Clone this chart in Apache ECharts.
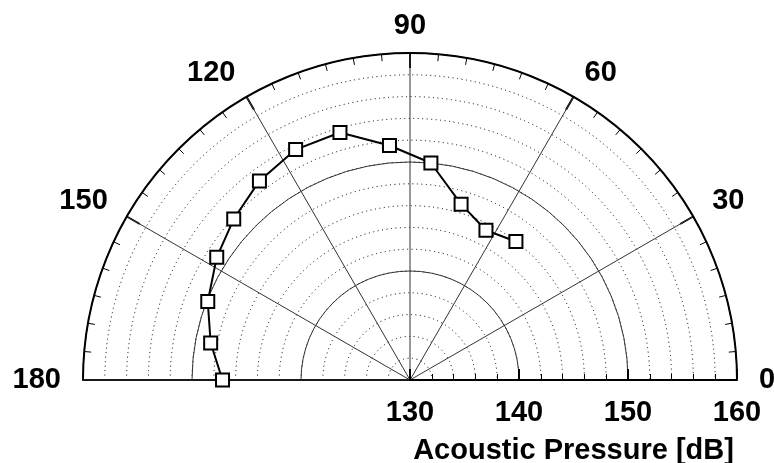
<!DOCTYPE html>
<html>
<head>
<meta charset="utf-8">
<script src="https://cdn.jsdelivr.net/npm/echarts@6/dist/echarts.min.js"></script>
<style>
html,body{margin:0;padding:0;background:#fff;}
#chart{width:774px;height:463px;}
</style>
</head>
<body>
<div id="chart"></div>
<script>
// Measurement angles (degrees) and acoustic pressure (dB)
const angles = [180, 169.5, 158.8, 147.6, 137.6, 127.1, 116.4, 105.8, 95.0, 84.5, 73.8, 63.1, 52.6];
const pressure = [147.2, 148.6, 149.9, 151.0, 151.9, 152.9, 153.6, 153.6, 151.6, 150.0, 146.8, 145.4, 146.0];
const angleTicks = [0, 30, 60, 90, 120, 150, 180];
const radiusTicks = [130, 140, 150, 160];
const radiusTitle = 'Acoustic Pressure [dB]';

const FONT = 'Liberation Sans, Arial, sans-serif';
const chart = echarts.init(document.getElementById('chart'), null, {renderer: 'canvas'});

const option = {
  animation: false,
  backgroundColor: '#fff',
  polar: [
    {center: [410, 380], radius: 327},
    {center: [410, 380], radius: 327}
  ],
  angleAxis: [
    {
      polarIndex: 0,
      type: 'value',
      min: angleTicks[0],
      max: angleTicks[angleTicks.length - 1],
      interval: 30,
      startAngle: 0,
      endAngle: 180,
      clockwise: false,
      z: 3,
      axisLine: {show: true, lineStyle: {color: '#000', width: 2}},
      axisTick: {show: true, inside: true, length: 15, lineStyle: {color: '#000', width: 2}},
      minorTick: {show: true, splitNumber: 6, length: 7, lineStyle: {color: '#000', width: 1}},
      axisLabel: {
        show: true, margin: 22, color: '#000', fontSize: 29, lineHeight: 10, fontWeight: 'bold', fontFamily: FONT,
        formatter: v => angleTicks.indexOf(v) >= 0 ? String(v) : ''
      },
      splitLine: {show: true, lineStyle: {color: '#333', width: 1}},
      minorSplitLine: {show: false}
    },
    {
      polarIndex: 1,
      type: 'value',
      min: 0, max: 180,
      startAngle: 180,
      endAngle: 0,
      clockwise: true,
      show: false
    }
  ],
  radiusAxis: [
    {
      polarIndex: 0,
      type: 'value',
      min: radiusTicks[0],
      max: radiusTicks[radiusTicks.length - 1],
      interval: 10,
      z: 3,
      name: radiusTitle,
      nameLocation: 'middle',
      nameGap: 56,
      nameTextStyle: {color: '#000', fontSize: 29, fontWeight: 'bold', fontFamily: FONT},
      axisLine: {show: true, lineStyle: {color: '#000', width: 2}},
      axisTick: {show: true, length: 11, lineStyle: {color: '#000', width: 2}},
      minorTick: {show: true, splitNumber: 5, length: 6, lineStyle: {color: '#000', width: 1}},
      axisLabel: {
        show: true, margin: -18, verticalAlign: 'top', align: 'center',
        color: '#000', fontSize: 29, fontWeight: 'bold', fontFamily: FONT,
        showMinLabel: true, showMaxLabel: true
      },
      splitLine: {show: true, lineStyle: {color: '#333', width: 1}},
      minorSplitLine: {show: false}
    },
    {
      polarIndex: 1,
      type: 'value',
      min: 130, max: 160,
      interval: 2,
      z: 2,
      axisLine: {show: true, lineStyle: {color: '#000', width: 2}},
      axisTick: {show: false},
      axisLabel: {show: false},
      splitLine: {show: true, lineStyle: {color: '#000', width: 1, type: [1, 3.5]}}
    }
  ],
  series: [
    {
      type: 'line',
      coordinateSystem: 'polar',
      polarIndex: 0,
      data: pressure.map((p, i) => [p, angles[i]]),
      symbol: 'rect',
      symbolSize: 13,
      showAllSymbol: true,
      lineStyle: {color: '#000', width: 2},
      itemStyle: {color: '#fff', borderColor: '#000', borderWidth: 2},
      z: 5
    }
  ]
};
chart.setOption(option);
</script>
</body>
</html>
